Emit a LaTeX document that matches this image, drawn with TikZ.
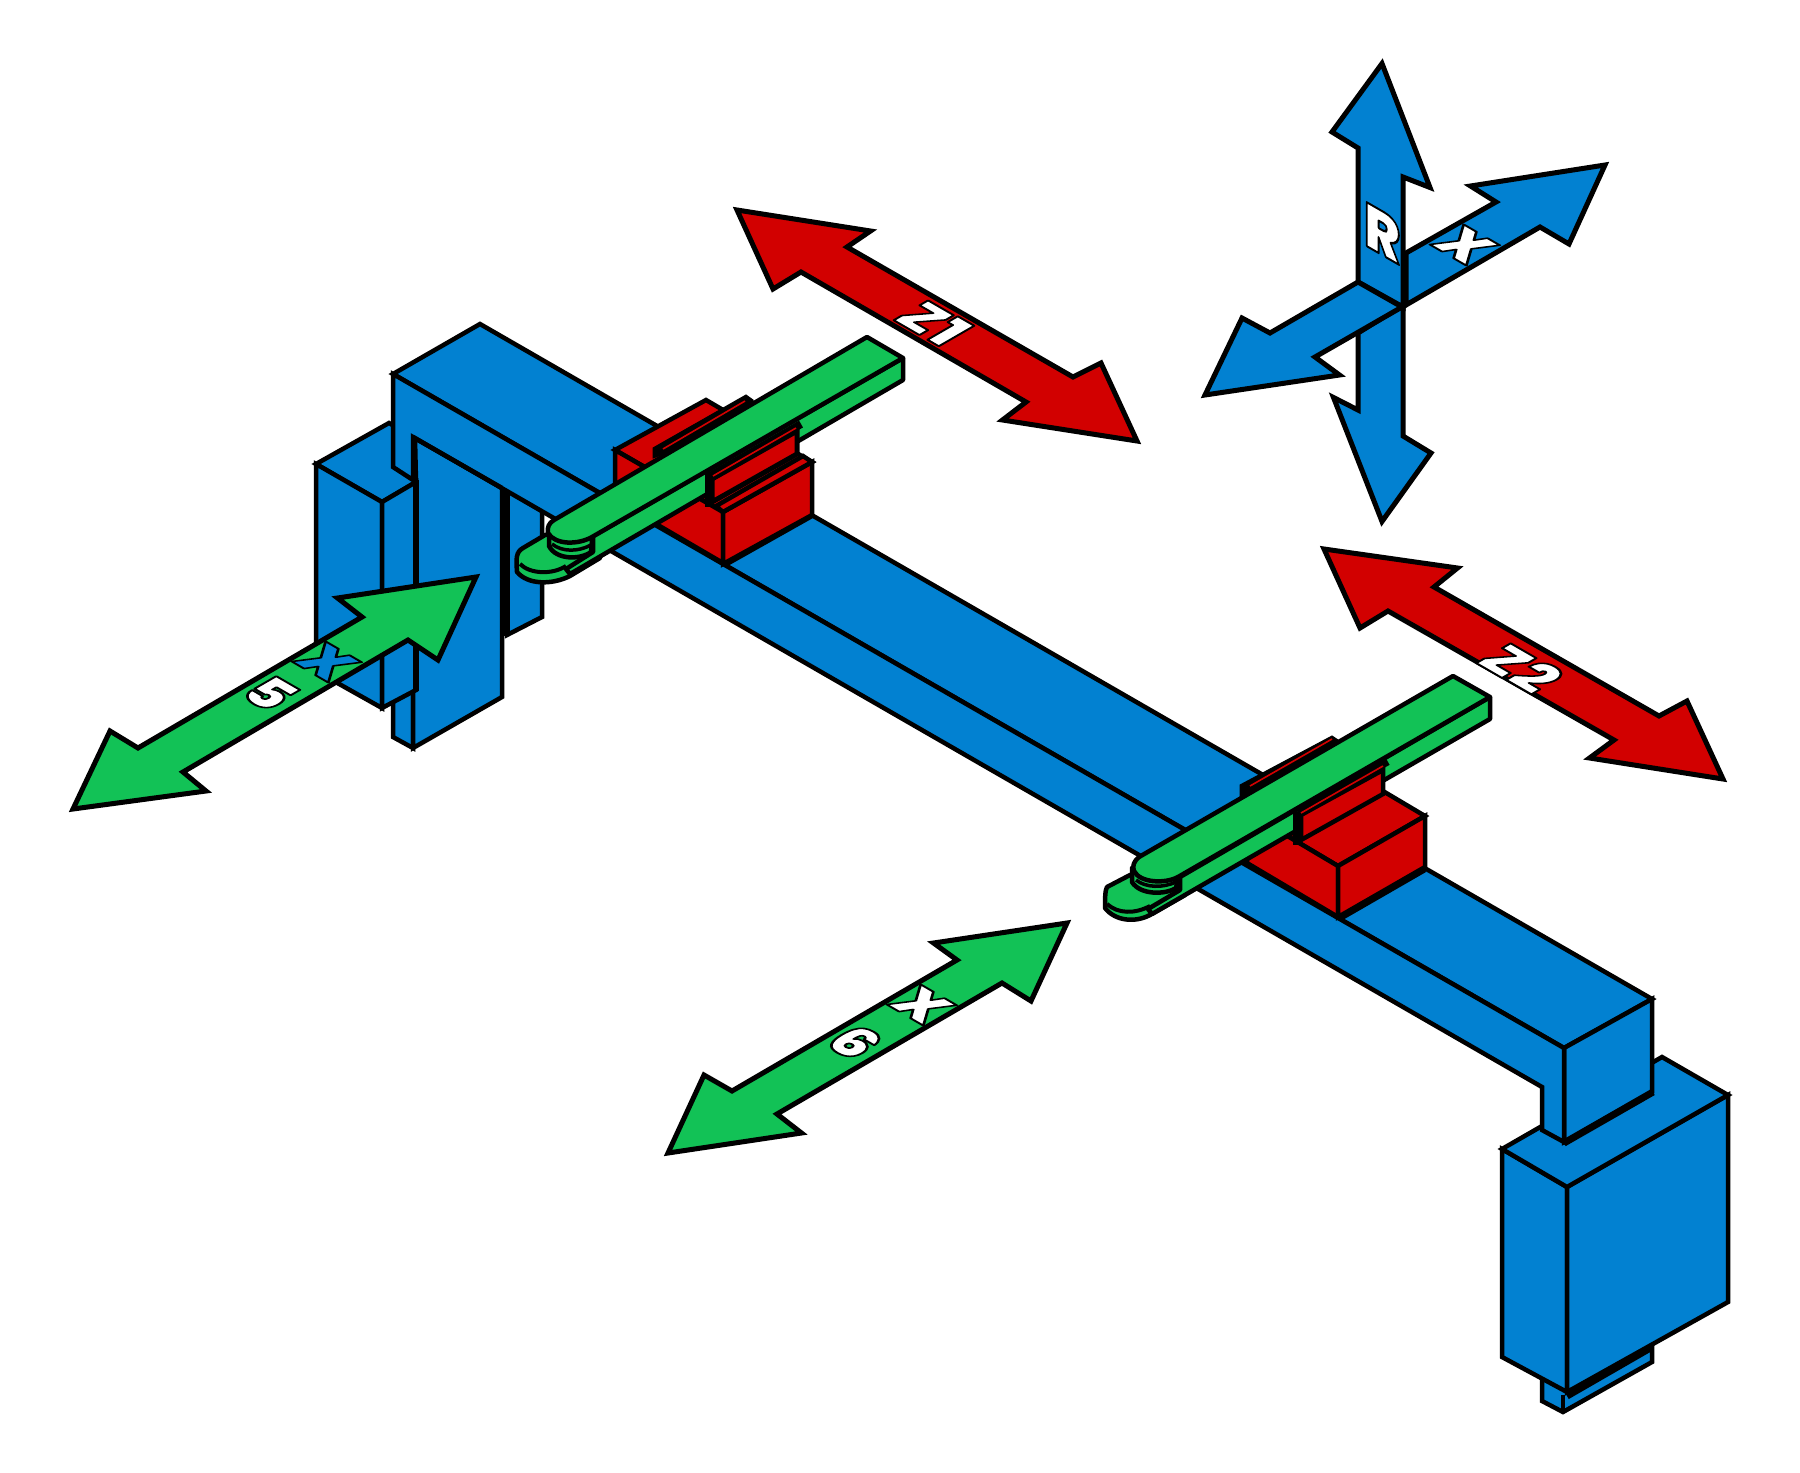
\documentclass[tikz,border=0pt]{standalone}
\usepackage{fontspec}
\setmainfont{DejaVu Sans}
\newfontfamily\lblfont{Poppins Black}
\definecolor{cblue}{HTML}{0281D1}
\definecolor{cgreen}{HTML}{12C256}
\definecolor{cred}{HTML}{D20000}
\newcommand{\otext}[1]{\special{pdf:code 2 Tr 2.2 w 1 j 0 0 0 RG}#1\special{pdf:code 0 Tr}}
\tikzset{
  bl/.style={draw=black,fill=cblue,line width=4.5pt,line join=miter,miter limit=6},
  gr/.style={draw=black,fill=cgreen,line width=4.5pt,line join=round},
  rd/.style={draw=black,fill=cred,line width=4.5pt,line join=miter},
  arrowg/.style={draw=black,fill=cgreen,line width=5pt,line join=miter,miter limit=10},
  arrowr/.style={draw=black,fill=cred,line width=5pt,line join=miter,miter limit=10},
  arrowb/.style={draw=black,fill=cblue,line width=5pt,line join=miter,miter limit=10},
  edgeline/.style={draw=black,line width=4.5pt},
  thickedge/.style={draw=black,line width=7pt},
  slabtop/.style={draw=black,line width=8pt},
  slabstrip/.style={draw=cred,line width=1.6pt},
  rimline/.style={draw=black,line width=4pt},
  toplabel/.style={inner sep=0pt,text=white,font=\lblfont\fontsize{56}{56}\selectfont,cm={.866,-.5,.866,.5,(0,0)},transform shape},
  sidelabel/.style={inner sep=0pt,text=white,font=\lblfont\fontsize{62}{62}\selectfont,cm={.866,-.5,0,1,(0,0)},transform shape},
}
\begin{document}
\begin{tikzpicture}[x=1pt,y=-1pt]
\path[use as bounding box] (0,0) rectangle (1800,1473);
% lower pieces of the motor
\path[bl] (1542,1370) -- (1542,1401) -- (1563,1412) -- (1652,1362) -- (1652,1335) -- cycle;
\draw[edgeline] (1563,1395) -- (1563,1412);
\path[bl] (1502,1149) -- (1567,1187) -- (1567,1392) -- (1502,1357) -- cycle;
\path[bl] (1567,1187) -- (1728,1095) -- (1728,1302) -- (1567,1392) -- cycle;
\path[bl] (1502,1149) -- (1662,1057) -- (1728,1095) -- (1567,1187) -- cycle;
\draw[thickedge] (1567,1396) -- (1652,1347);
% back piece at the left end
\path[bl] (503,488) -- (542,511) -- (542,617) -- (507,635) -- cycle;
\draw[thickedge] (506,488) -- (506,636);
% lower strip, leg
\path[bl] (393,690) -- (393,737) -- (413,748) -- (413,680) -- cycle;
\path[bl] (413,437) -- (502,488) -- (502,697) -- (413,748) -- cycle;
% column
\path[bl] (316,464) -- (389,423) -- (415,438) -- (416,482) -- (382,502) -- cycle;
\path[bl] (316,464) -- (382,502) -- (382,708) -- (316,671) -- cycle;
\path[bl] (382,502) -- (416,482) -- (416,690) -- (382,708) -- cycle;
\draw[draw=black,line width=6.5pt] (416,480) -- (416,691);
% beam
\path[bl] (480,324) -- (1652,999) -- (1564,1048) -- (393,374) -- cycle;
\path[bl] (1564,1048) -- (1652,999) -- (1652,1092) -- (1564,1142) -- cycle;
\path[bl] (393,374) -- (1564,1048) -- (1564,1142) -- (1542,1130) -- (1542,1087) -- (413,437) -- (413,480) -- (393,467) -- cycle;
\draw[thickedge] (1564,1143) -- (1653,1092);
\draw[edgeline] (413,437) -- (502,488);
% red block 1, base
\path[rd] (615,450) -- (706,400) -- (812,462) -- (723,512) -- cycle;
\path[rd] (615,450) -- (723,512) -- (723,563) -- (615,500) -- cycle;
\path[rd] (723,512) -- (812,462) -- (812,515) -- (723,564) -- cycle;
\draw[edgeline] (725,565) -- (812,516);
% red block 1, rear slab
\path[draw=black,fill=black,line width=1pt] (653,448) -- (746,395) -- (753,400) -- (753,420) -- (653,458) -- cycle;
\draw[slabstrip] (663,449) -- (745,401);
% red block 2, base
\path[rd] (1247,812) -- (1334,762) -- (1425,816) -- (1338,866) -- cycle;
\path[rd] (1247,812) -- (1338,866) -- (1338,917) -- (1247,863) -- cycle;
\path[rd] (1338,866) -- (1425,816) -- (1425,867) -- (1338,917) -- cycle;
\draw[edgeline] (1340,919) -- (1425,870);
% red block 2, rear slab
\path[draw=black,fill=black,line width=1pt] (1240,785) -- (1332,736) -- (1338,740) -- (1338,760) -- (1240,797) -- cycle;
\draw[slabstrip] (1250,786) -- (1332,739);
% green arm 1
\path[gr] (545,535) -- (523,548) .. controls (516,552) and (516,558) .. (517,572) .. controls (528,585) and (552,585) .. (570,576) -- (600,558) -- (600,525) -- cycle;
\draw[rimline] (520,564) .. controls (530,574) and (552,575) .. (566,566);
\path[gr] (593,536) -- (903,358) -- (903,380) -- (570,574) -- (566,569) -- (593,552) -- cycle;
\path[gr] (549,535) -- (549,546) .. controls (556,560) and (580,560) .. (591,552) -- (593,530) -- cycle;
\draw[draw=black,line width=3.5pt] (552,544) .. controls (562,552) and (578,552) .. (591,545);
\path[gr] (867,337) -- (903,358) -- (592,537) .. controls (578,545) and (555,545) .. (548,533) .. controls (547,527) and (549,523) .. (554,520) -- cycle;
% red block 1, front slab
\path[rd,line width=5pt] (712,479) -- (797,431) -- (797,454) -- (712,502) -- cycle;
\draw[slabtop] (710,476) -- (801,424);
\draw[slabstrip] (713,476) -- (796,428);
\draw[thickedge] (708,472) -- (708,507);
\path[rd] (716,506) -- (803,456) -- (812,462) -- (723,512) -- cycle;
% green arm 2
\path[gr] (1130,875) -- (1107,887) .. controls (1105,890) and (1105,900) .. (1105,908) .. controls (1115,921) and (1135,923) .. (1150,915) -- (1185,895) -- (1185,860) -- cycle;
\draw[rimline] (1107,904) .. controls (1118,914) and (1135,914) .. (1150,906);
\path[gr] (1180,877) -- (1490,697) -- (1490,719) -- (1152,914) -- (1148,909) -- (1180,890) -- cycle;
\path[gr] (1132,868) -- (1132,882) .. controls (1140,895) and (1165,895) .. (1176,888) -- (1180,868) -- cycle;
\draw[draw=black,line width=3.5pt] (1136,880) .. controls (1146,888) and (1163,888) .. (1176,882);
\path[gr] (1453,676) -- (1490,697) -- (1178,877) .. controls (1165,884) and (1140,883) .. (1134,871) .. controls (1132,866) and (1134,861) .. (1139,857) -- cycle;
% red block 2, front slab
\path[rd,line width=4.5pt] (1301,815) -- (1383,770) -- (1383,794) -- (1301,840) -- cycle;
\draw[slabtop,line width=6.5pt] (1298,813) -- (1388,762);
\draw[slabstrip] (1301,813) -- (1383,766);
\draw[thickedge] (1296,812) -- (1296,845);
% axis arrows
\path[arrowr] (737,210) -- (870.5,231) -- (847,247) -- (1073,377) -- (1101,363) -- (1137,441) -- (1002.5,420) -- (1026,402) -- (801,272) -- (773,289) -- cycle;
\path[arrowr] (1324,549) -- (1457.5,568) -- (1434,587) -- (1659,716) -- (1687,701) -- (1723,779) -- (1589.5,758) -- (1614,740) -- (1388,611) -- (1360,628) -- cycle;
\path[arrowg] (73,809) -- (110,731) -- (138,748) -- (362,617) -- (337.5,598) -- (476,577) -- (438,660) -- (408,640) -- (183,772) -- (206,791) -- cycle;
\path[arrowg] (668,1153) -- (704,1075) -- (732,1091) -- (957,960) -- (933.5,943) -- (1067,923) -- (1031,1001) -- (1002,983) -- (777,1114) -- (801.5,1133) -- cycle;
% blue cross
\path[arrowb] (1358,333) -- (1358,410) -- (1333.5,397.5) -- (1382,521.5) -- (1431,453) -- (1403,436) -- (1403,305) -- cycle;
\path[arrowb] (1382,63.5) -- (1332,132) -- (1358,148) -- (1358,282) -- (1403,307) -- (1403,177) -- (1430,187.5) -- cycle;
\path[arrowb] (1406,305) -- (1406,253) -- (1496,202) -- (1470.5,186) -- (1605,165) -- (1569,244) -- (1540,227) -- cycle;
\path[arrowb] (1358,282) -- (1402,307) -- (1315,357) -- (1339.5,375) -- (1205,395) -- (1242,318) -- (1270,333) -- cycle;
% labels
\node[toplabel] (lz1) at (934,323) {\otext{Z1}};
\node[toplabel] (lz2) at (1521,668) {\otext{Z2}};
\node[sidelabel] (lr) at (1382,233) {\otext{R}};
\node[toplabel] (lx) at (1465,245) {\otext{X}};
\node[toplabel] (l5) at (270,693) {\otext{5}};
\node[toplabel,text=cblue] (lx5) at (327,662) {\otext{X}};
\node[toplabel] (l6) at (855,1042) {\otext{6}};
\node[toplabel] (lx6) at (922,1005) {\otext{X}};
\end{tikzpicture}
\end{document}
